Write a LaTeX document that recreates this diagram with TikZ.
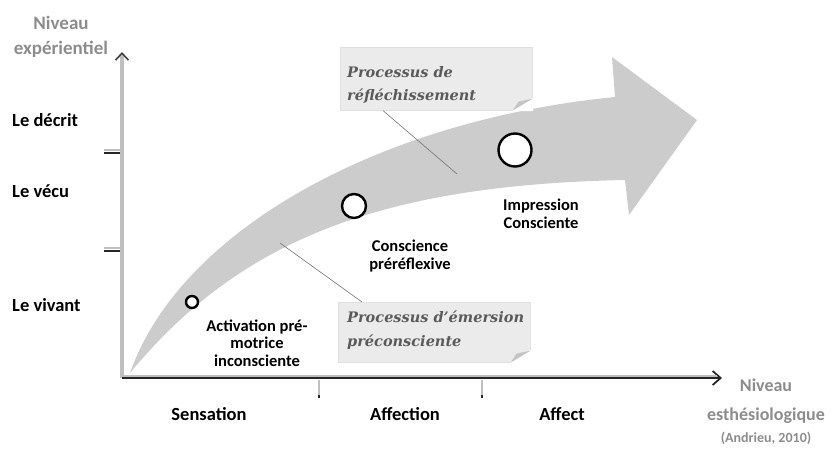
\documentclass[tikz,border=0pt]{standalone}
\usepackage{fontspec}
\setmainfont{Carlito}
\newfontfamily\notefont{DejaVu Serif}
\usetikzlibrary{positioning,arrows.meta}

\definecolor{axisgrey}{HTML}{BFBFBF}
\definecolor{bandgrey}{HTML}{CCCCCC}
\definecolor{notegrey}{HTML}{EBEBEB}
\definecolor{foldgrey}{HTML}{C4C4C4}
\definecolor{namegrey}{HTML}{8C8C8C}
\definecolor{inkgrey}{HTML}{5A5A5A}

\begin{document}
\begin{tikzpicture}[%
		x=1pt, y=-1pt,
		level/.style={%
			font=\bfseries\fontsize{18.5}{21}\selectfont,
			anchor=west,
			inner sep=0pt
		},
		stage/.style={%
			font=\bfseries\fontsize{18.5}{21}\selectfont
		},
		axisname/.style={%
			font=\bfseries\fontsize{19}{25}\selectfont,
			text=namegrey,
			align=center
		},
		phase/.style={%
			font=\bfseries\fontsize{16.5}{17.5}\selectfont,
			align=center
		},
		marker/.style={%
			circle,
			draw,
			line width=2.4pt,
			fill=white,
			inner sep=0pt
		},
		notebox/.style={%
			fill=notegrey,
			draw=black!12,
			line width=0.6pt,
			anchor=north west,
			inner sep=0pt
		},
		note/.style={%
			font=\notefont\bfseries\itshape\fontsize{14.5}{23.5}\selectfont,
			text=inkgrey,
			align=left,
			anchor=north west,
			inner sep=0pt
		},
		pointer/.style={%
			draw=black!55,
			line width=0.6pt
		}
		]
		\useasboundingbox (0,0) rectangle (835,448);
		
		% the big curved arrow
		\fill[bandgrey] (130,373) .. controls (180,230) and (380,120) .. (615,97)
		-- (612,57) -- (697,120) -- (629,215) -- (625,180)
		.. controls (380,185) and (240,240) .. (130,373) -- cycle;
		
		% axes
		\coordinate (origin) at (122,378);
		\coordinate (ytop)   at (122,52);
		\coordinate (xend)   at (722,378);
		\draw[line width=3.6pt, axisgrey,
		-{Straight Barb[length=7pt, width=13pt, line width=1.6pt, color=black!75]}] (origin) -- (ytop);
		\draw[line width=1.8pt, black!85,
		-{Straight Barb[length=8pt, width=14pt, line width=1.8pt]}] (origin) -- (xend);
		\draw[line width=2.6pt, axisgrey] ([yshift=2.2pt]origin) -- ([yshift=2.2pt, xshift=-5pt]xend);
		
		\foreach \y in {152,250} {
			\draw[line width=2pt, axisgrey] (104,\y-2) -- (120,\y-2);
			\draw[line width=2pt, black!85] (104,\y+0.5) -- (120,\y+0.5);
		}
		\foreach \x in {319,482} {
			\draw[line width=2.6pt, axisgrey] (\x,380) -- (\x,395);
			\draw[line width=2.6pt, black!85] (\x,395) -- (\x,398);
		}
		
		% axis names
		\node[axisname] (yname) at (61,37)  {Niveau\\expérientiel};
		\node[axisname, font=\bfseries\fontsize{18}{29}\selectfont] (xname) at (766,401) {Niveau\\esthésiologique};
		\node[font=\bfseries\fontsize{14}{16}\selectfont, text=namegrey] (source) at (766,438) {(Andrieu, 2010)};
		
		% levels and stages
		\node[level] (decrit) at (12,120) {Le décrit};
		\node[level] (vecu)   at (12,191) {Le vécu};
		\node[level] (vivant) at (12,305) {Le vivant};
		
		\node[stage] (sensation) at (209,414) {Sensation};
		\node[stage] (affection) at (405,414) {Affection};
		\node[stage] (affect)    at (562,414) {Affect};
		
		% markers on the arrow
		\node[marker, minimum size=12pt] (activation) at (192,302) {};
		\node[marker, minimum size=24pt] (conscience) at (354,206) {};
		\node[marker, minimum size=33pt] (impression) at (515,150) {};
		
		\node[phase] (activation label) at (257,343) {Activation pré-\\motrice\\inconsciente};
		\node[phase] (conscience label) at (410,256) {Conscience\\préréflexive};
		\node[phase] (impression label) at (541,214) {Impression\\Consciente};
		
		% callouts
		\node[notebox, minimum width=192pt, minimum height=63pt] (refl) at (340,47) {};
		\fill[white] ([xshift=-21pt, yshift=-0.5pt]refl.south east) -- ([xshift=0.5pt, yshift=-0.5pt]refl.south east) -- ([xshift=0.5pt, yshift=13pt]refl.south east) -- cycle;
		\fill[foldgrey] ([xshift=-20pt]refl.south east) -- ([yshift=12pt]refl.south east) -- ([xshift=-14pt, yshift=9pt]refl.south east) -- cycle;
		\node[note] (refl text) at (347,66) {Processus de\\réfléchissement};
		\coordinate (refl foot) at ([xshift=43pt]refl.south west);
		\coordinate (refl end)  at (457,174);
		\draw[pointer] (refl foot) -- (refl end);
		
		\node[notebox, minimum width=192pt, minimum height=60pt] (emer) at (338,302) {};
		\fill[white] ([xshift=-21pt, yshift=-0.5pt]emer.south east) -- ([xshift=0.5pt, yshift=-0.5pt]emer.south east) -- ([xshift=0.5pt, yshift=13pt]emer.south east) -- cycle;
		\fill[foldgrey] ([xshift=-20pt]emer.south east) -- ([yshift=12pt]emer.south east) -- ([xshift=-14pt, yshift=9pt]emer.south east) -- cycle;
		\node[note] (emer text) at (347,311) {Processus d’émersion\\préconsciente};
		\coordinate (emer foot) at ([xshift=24pt]emer.north west);
		\coordinate (emer end)  at (280,243);
		\draw[pointer] (emer foot) -- (emer end);
		\end{tikzpicture}
\end{document}
